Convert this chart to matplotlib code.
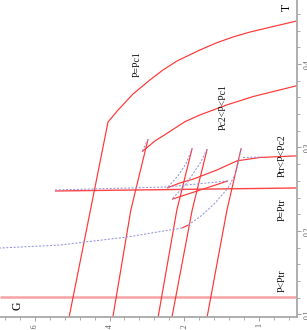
import matplotlib
matplotlib.use("Agg")
import matplotlib.pyplot as plt
from matplotlib.ticker import MultipleLocator

# ---- data (G, T) ----
# P = Pc1
pc1_G = [1.508, 1.404, 1.377, 1.337, 1.292, 1.257, 1.2195, 1.158, 1.115, 1.070, 1.024, 0.979, 0.939, 0.899]
pc1_T = [0.097, 0.3305, 0.3449, 0.3641, 0.3808, 0.3928, 0.4036, 0.4168, 0.4251, 0.4323, 0.4383, 0.4431, 0.4473, 0.4515]

# Pc2 < P < Pc1
pc2a_low_G = [1.391, 1.343, 1.297]
pc2a_low_T = [0.097, 0.225, 0.310]
pc2a_uns_G = [1.297, 1.313]
pc2a_uns_T = [0.310, 0.295]
pc2a_up_G = [1.313, 1.278, 1.246, 1.198, 1.158, 1.086, 1.016, 0.899]
pc2a_up_T = [0.295, 0.308, 0.317, 0.331, 0.339, 0.351, 0.361, 0.374]

# Ptr < P < Pc2
pc2b_low_G = [1.270, 1.220, 1.179]
pc2b_low_T = [0.097, 0.225, 0.299]
pc2b_uns_G = [1.179, 1.195, 1.217, 1.246]
pc2b_uns_T = [0.299, 0.281, 0.266, 0.2515]
pc2b_up_G = [1.246, 1.212, 1.177, 1.113, 1.059, 0.998, 0.899]
pc2b_up_T = [0.2515, 0.2575, 0.262, 0.273, 0.284, 0.288, 0.290]
pc2b_tip_G = [1.043, 0.992]
pc2b_tip_T = [0.2880, 0.2886]

# P = Ptr
ptr_low_G = [1.233, 1.179, 1.139]
ptr_low_T = [0.097, 0.225, 0.298]
ptr_uns1_G = [1.139, 1.158, 1.193, 1.233]
ptr_uns1_T = [0.298, 0.281, 0.2575, 0.238]
ptr_mid_G = [1.233, 1.083]
ptr_mid_T = [0.238, 0.260]
ptr_uns2_G = [1.083, 1.246, 1.546]
ptr_uns2_T = [0.260, 0.2527, 0.2491]
ptr_small_G = [1.546, 0.899]
ptr_small_T = [0.2479, 0.2515]

# P < Ptr
lo_low_G = [1.139, 1.086, 1.048]
lo_low_T = [0.097, 0.225, 0.299]
lo_uns_G = [1.048, 1.054, 1.062, 1.083, 1.121, 1.158, 1.190]
lo_uns_T = [0.299, 0.285, 0.2695, 0.2515, 0.232, 0.217, 0.207]
lo_kink_G = [1.190, 1.206]
lo_kink_T = [0.207, 0.2036]
lo_uns2_G = [1.206, 1.353, 1.532, 1.693]
lo_uns2_T = [0.2036, 0.1928, 0.1832, 0.1796]
lo_small_G = [1.693, 0.899]
lo_small_T = [0.121, 0.121]

G_ticks = [1.6, 1.4, 1.2, 1.0]
G_labels = ["1.6", "1.4", "1.2", "1"]
T_ticks = [0.1, 0.2, 0.3, 0.4]
T_labels = ["0.1", "0.2", "0.3", "0.4"]

RED = "#ff3535"
PINK = "#f5a3a3"
BLUE = "#9494dc"
SERIF = ["Liberation Serif", "DejaVu Serif"]

fig = plt.figure(figsize=(3.07, 3.30), dpi=100)
ax = fig.add_axes([0, 13 / 330, 297 / 307, 317 / 330])
ax.set_xlim(1.6928, 0.8987)
ax.set_ylim(0.0970, 0.4766)

def red(g, t, c=RED, lw=0.85):
    ax.plot(g, t, color=c, lw=lw, solid_capstyle="butt", solid_joinstyle="round")

def dash(g, t):
    ax.plot(g, t, color=BLUE, lw=0.75, dashes=(2, 1.5))

red(lo_small_G, lo_small_T, PINK, 1.8)
red(pc1_G, pc1_T)
red(pc2a_low_G, pc2a_low_T)
red(pc2a_up_G, pc2a_up_T)
red(pc2b_low_G, pc2b_low_T)
red(pc2b_up_G, pc2b_up_T)
red(ptr_low_G, ptr_low_T)
red(ptr_mid_G, ptr_mid_T)
red(ptr_small_G, ptr_small_T, "#ff4444", 1.0)
red(lo_low_G, lo_low_T)
red(lo_kink_G, lo_kink_T)

dash(pc2a_uns_G, pc2a_uns_T)
dash(pc2b_uns_G, pc2b_uns_T)
dash(pc2b_tip_G, pc2b_tip_T)
dash(ptr_uns1_G, ptr_uns1_T)
dash(ptr_uns2_G, ptr_uns2_T)
dash(lo_uns_G, lo_uns_T)
dash(lo_uns2_G, lo_uns2_T)

# axes styling
for s in ("top", "left"):
    ax.spines[s].set_visible(False)
for s in ("bottom", "right"):
    ax.spines[s].set_color("#a8a8a8")
    ax.spines[s].set_linewidth(1.3)
ax.yaxis.tick_right()
ax.set_xticks(G_ticks)
ax.set_xticklabels(G_labels)
ax.set_yticks(T_ticks)
ax.set_yticklabels(T_labels)
ax.xaxis.set_minor_locator(MultipleLocator(0.04))
ax.yaxis.set_minor_locator(MultipleLocator(0.02))
ax.tick_params(which="major", length=3, width=0.7, color="#a0a0a0", direction="out")
ax.tick_params(which="minor", length=1.8, width=0.6, color="#a0a0a0", direction="out")
ax.tick_params(axis="both", labelsize=5.5, labelcolor="#555555", pad=1.5)
for lab in ax.get_xticklabels():
    lab.set_rotation(90)
    lab.set_family(SERIF)
    lab.set_ha("center")
    lab.set_va("top")
for lab in ax.get_yticklabels():
    lab.set_rotation(90)
    lab.set_family(SERIF)
    lab.set_va("center")
    lab.set_ha("left")
ax.patch.set_alpha(0)

tkw = dict(rotation=90, ha="center", va="center", fontsize=7, family=SERIF, color="#111111")
ax.text(1.3265, 0.400, "P=Pc1", **tkw)
ax.text(1.0965, 0.3485, "Pc2<P<Pc1", **tkw)
ax.text(0.9370, 0.2898, "Ptr<P<Pc2", **tkw)
ax.text(0.9370, 0.2251, "P=Ptr", **tkw)
ax.text(0.9370, 0.1401, "P<Ptr", **tkw)
ax.text(0.9254, 0.4671, "T", rotation=90, ha="center", va="center", fontsize=8.5, family=SERIF)
ax.text(1.6447, 0.1102, "G", rotation=90, ha="center", va="center", fontsize=8.5, family=SERIF)

fig.savefig("out.png", dpi=100)
